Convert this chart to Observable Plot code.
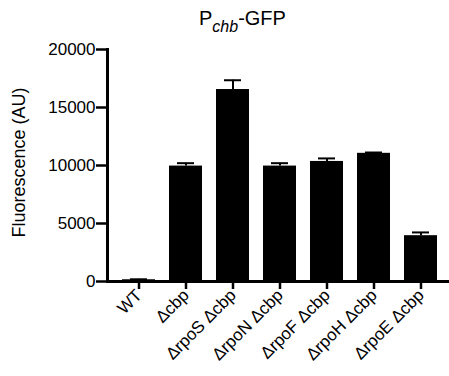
<!DOCTYPE html>
<html>
<head>
<meta charset="utf-8">
<script src="https://cdn.jsdelivr.net/npm/d3@7"></script>
<script src="https://cdn.jsdelivr.net/npm/@observablehq/plot@0.6"></script>
<style>
  body { margin: 0; background: #fff; }
  #wrap { position: relative; width: 449px; height: 376px; font-family: "Liberation Sans", Arial, sans-serif; }
  #title { position: absolute; top: 8px; left: 199px; font-size: 20px; color: #000; white-space: nowrap; line-height: 1; }
  #title sub { font-size: 16px; font-style: italic; vertical-align: -7px; line-height: 0; }
  svg { display: block; }
</style>
</head>
<body>
<div id="wrap"><div id="title">P<sub>chb</sub>-GFP</div></div>
<script>
const categories = ["WT", "Δcbp", "ΔrpoS Δcbp", "ΔrpoN Δcbp", "ΔrpoF Δcbp", "ΔrpoH Δcbp", "ΔrpoE Δcbp"];
const means = [150, 9950, 16550, 9950, 10350, 11050, 3950];
const sems = [40, 250, 800, 250, 260, 70, 280];
const yTicks = [0, 5000, 10000, 15000, 20000];

const data = categories.map((c, i) => ({cat: c, mean: means[i], top: means[i] + sems[i]}));

const chart = Plot.plot({
  width: 449,
  height: 376,
  marginTop: 49,
  marginBottom: 95,
  marginLeft: 107,
  marginRight: 0,
  style: {fontFamily: "Liberation Sans, Arial, sans-serif", fontSize: "16px", color: "#000", background: "#fff"},
  x: {domain: categories, range: [107.5, 452.5], padding: 0.29, label: null},
  y: {domain: [0, 20000], label: null},
  marks: [
    Plot.ruleX(data, {x: "cat", y1: "mean", y2: "top", stroke: "#000", strokeWidth: 2}),
    Plot.tickY(data, {x: "cat", y: "top", stroke: "#000", strokeWidth: 2, insetLeft: 8, insetRight: 8}),
    Plot.barY(data, {x: "cat", y: "mean", fill: "#000"}),
    Plot.frame({anchor: "left", stroke: "#000", strokeWidth: 3}),
    Plot.frame({anchor: "bottom", stroke: "#000", strokeWidth: 3}),
    Plot.axisY({ticks: yTicks, tickFormat: d => String(d), tickSize: 11, tickPadding: 1, strokeWidth: 2.5, fontSize: 17, label: null}),
    Plot.axisX({tickSize: 8, tickPadding: 3, strokeWidth: 2.5, tickRotate: -45, fontSize: 17, label: null}),
    Plot.text(["Fluorescence (AU)"], {frameAnchor: "left", textAnchor: "middle", rotate: -90, dx: -88, dy: -3, fontSize: 18, fill: "#000"})
  ]
});
document.getElementById("wrap").appendChild(chart);
</script>
</body>
</html>
